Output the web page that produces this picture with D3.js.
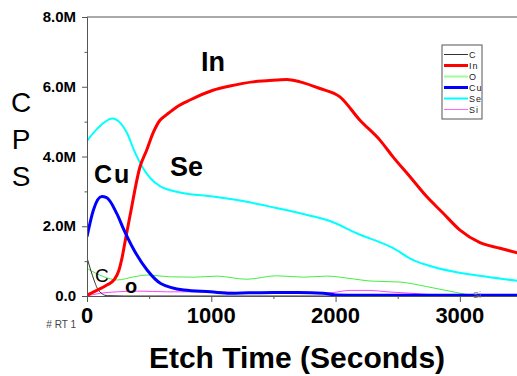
<!DOCTYPE html>
<html>
<head>
<meta charset="utf-8">
<script src="https://cdn.jsdelivr.net/npm/d3@7"></script>
<style>
  body { margin: 0; background: #fff; }
  svg { display: block; font-family: Arial, "Liberation Sans", sans-serif; }
</style>
</head>
<body>
<svg id="chart" width="517" height="376"></svg>
<script>
// depth profile counts, [etch time (s), counts in millions]
var cPts  = [[0,1.1],[30,0.74],[56,0.46],[83,0.22],[123,0.06],[163,0.01],[300,0],[1000,0],[2000,0],[3500,0]]
var inPts = [[0,0.02],[83,0.17],[163,0.32],[217,0.46],[257,0.74],[284,1.13],[311,1.65],[346,2.3],[426,3.7],[480,4.18],[531,4.67],[587,5.04],[641,5.2],[722,5.42],[829,5.62],[1014,5.9],[1150,6.02],[1335,6.14],[1446,6.17],[1607,6.21],[1714,6.14],[1874,5.95],[2035,5.71],[2196,5.04],[2357,4.47],[2462,3.99],[2599,3.42],[2733,2.85],[2864,2.38],[3001,1.89],[3162,1.53],[3323,1.37],[3500,1.2]]
var oPts  = [[0,0.79],[137,0.55],[244,0.46],[378,0.55],[485,0.6],[673,0.55],[861,0.54],[1048,0.57],[1285,0.48],[1526,0.58],[1740,0.54],[1928,0.57],[2142,0.49],[2277,0.43],[2518,0.4],[2733,0.27],[3001,0.08],[3081,0.03],[3200,0],[3500,0]]
var cuPts = [[0,1.7],[51,2.46],[118,2.85],[158,2.82],[239,2.37],[298,1.89],[378,1.32],[485,0.74],[593,0.36],[780,0.17],[995,0.12],[1150,0.08],[1300,0.09],[1500,0.1],[1700,0.1],[1900,0.08],[2000,0.03],[2200,0.02],[3500,0.02]]
var sePts = [[0,4.45],[83,4.8],[204,5.09],[271,4.95],[324,4.66],[378,4.18],[445,3.7],[512,3.37],[587,3.15],[748,2.97],[1014,2.85],[1285,2.7],[1553,2.5],[1714,2.37],[1955,2.15],[2170,1.8],[2464,1.37],[2625,1.03],[2733,0.89],[2945,0.7],[3216,0.55],[3500,0.42]]
var siPts = [[0,0],[110,0.08],[244,0.12],[405,0.14],[646,0.12],[1070,0.12],[1335,0.08],[1875,0.08],[1980,0.1],[2115,0.16],[2277,0.16],[2415,0.12],[2600,0.08],[2814,0.03],[3000,0.01],[3500,0]]

var names = ["C", "In", "O", "Cu", "Se", "Si"]
var xTicks = [0, 1000, 2000, 3000]
var yTicks = [0, 2, 4, 6, 8]
var yTickLabels = ["0.0", "2.0M", "4.0M", "6.0M", "8.0M"]

var series = {
  C:  { pts: cPts,  color: "#333", w: 1, legColor: "#333", legW: 1 },
  In: { pts: inPts, color: "#ff0000", w: 3, legColor: "#ff0000", legW: 3 },
  O:  { pts: oPts,  color: "#44ee44", w: 1, legColor: "#99ff99", legW: 2 },
  Cu: { pts: cuPts, color: "#0000ff", w: 3, legColor: "#0000ff", legW: 3 },
  Se: { pts: sePts, color: "#00ffff", w: 2, legColor: "#00ffff", legW: 2 },
  Si: { pts: siPts, color: "#ff44ff", w: 1, legColor: "#ff66ff", legW: 1 }
}

var svg = d3.select("#chart")

var x = d3.scaleLinear().domain([0, 3500]).range([87, 522])
var y = d3.scaleLinear().domain([0, 8]).range([296, 17])

// clip for the plot area
svg.append("clipPath").attr("id", "plot")
  .append("rect").attr("x", 87).attr("y", 10).attr("width", 440).attr("height", 287)

var line = d3.line()
  .x(function (d) { return x(d[0]) })
  .y(function (d) { return y(d[1]) })
  .curve(d3.curveMonotoneX)

var g = svg.append("g").attr("clip-path", "url(#plot)")
;["Se", "O", "Si", "C", "In", "Cu"].forEach(function (k) {
  g.append("path")
    .attr("d", line(series[k].pts))
    .attr("fill", "none")
    .attr("stroke", series[k].color)
    .attr("stroke-width", series[k].w)
    .attr("stroke-linejoin", "round")
})

// axes
var axisColor = "#555"
var yAxis = svg.append("g").attr("transform", "translate(87,0)")
  .call(d3.axisLeft(y).tickValues(d3.range(0, 9)).tickSize(4).tickFormat(""))
yAxis.selectAll("line").attr("stroke", axisColor)
  .attr("x2", function (d) { return d % 2 ? -2.5 : -5 })
yAxis.select(".domain").attr("stroke", axisColor)

var xAxis = svg.append("g").attr("transform", "translate(0,296)")
  .call(d3.axisBottom(x).tickValues(d3.range(0, 3501, 500)).tickSize(6).tickFormat("").tickSizeOuter(0))
xAxis.selectAll("line").attr("stroke", axisColor)
  .attr("y2", function (d) { return d % 1000 ? 3 : 6 })
xAxis.select(".domain").attr("stroke", axisColor)

// top frame line
svg.append("line").attr("x1", 87).attr("x2", 522).attr("y1", 17).attr("y2", 17)
  .attr("stroke", axisColor)

svg.selectAll(".ylab").data(yTicks).enter().append("text")
  .attr("x", 76).attr("y", function (d) { return y(d) + 5 })
  .attr("text-anchor", "end").attr("font-size", 15).attr("font-weight", "bold")
  .text(function (d, i) { return yTickLabels[i] })

svg.selectAll(".xlab").data(xTicks).enter().append("text")
  .attr("x", function (d) { return x(d) }).attr("y", 323)
  .attr("text-anchor", "middle").attr("font-size", 22).attr("font-weight", "bold")
  .text(function (d) { return d })

// axis titles
;["C", "P", "S"].forEach(function (ch, i) {
  svg.append("text").attr("x", 21).attr("y", 112 + i * 37)
    .attr("text-anchor", "middle").attr("font-size", 28).text(ch)
})
svg.append("text").attr("x", 297).attr("y", 368)
  .attr("text-anchor", "middle").attr("font-size", 30).attr("font-weight", "bold")
  .text("Etch Time (Seconds)")

svg.append("text").attr("x", 76).attr("y", 328).attr("text-anchor", "end")
  .attr("font-size", 10).attr("fill", "#444").text("# RT  1")

// element annotations
var notes = [
  { t: "In", x: 201, y: 71, s: 27, b: true },
  { t: "Cu", x: 94, y: 183, s: 25, b: true, ls: 2 },
  { t: "Se", x: 170, y: 176, s: 27, b: true },
  { t: "C", x: 95, y: 282, s: 19, b: false },
  { t: "o", x: 125, y: 293, s: 20, b: true }
]
notes.forEach(function (n) {
  svg.append("text").attr("x", n.x).attr("y", n.y)
    .attr("font-size", n.s).attr("font-weight", n.b ? "bold" : "normal")
    .attr("letter-spacing", n.ls || 0).text(n.t)
})
svg.append("text").attr("x", 473).attr("y", 298).attr("font-size", 9)
  .attr("fill", "#777").text("Si")

// legend
var leg = svg.append("g").attr("transform", "translate(442,45)")
leg.append("rect").attr("x", 0).attr("y", 0).attr("width", 40).attr("height", 74)
  .attr("fill", "#fff").attr("stroke", axisColor)
names.forEach(function (k, i) {
  var yy = 9.5 + i * 11
  leg.append("line").attr("x1", 2).attr("x2", 26).attr("y1", yy).attr("y2", yy)
    .attr("stroke", series[k].legColor).attr("stroke-width", series[k].legW)
  leg.append("text").attr("x", 27).attr("y", yy + 3.5).attr("font-size", 9)
    .attr("letter-spacing", 1).attr("fill", "#222").text(k)
})
</script>
</body>
</html>
